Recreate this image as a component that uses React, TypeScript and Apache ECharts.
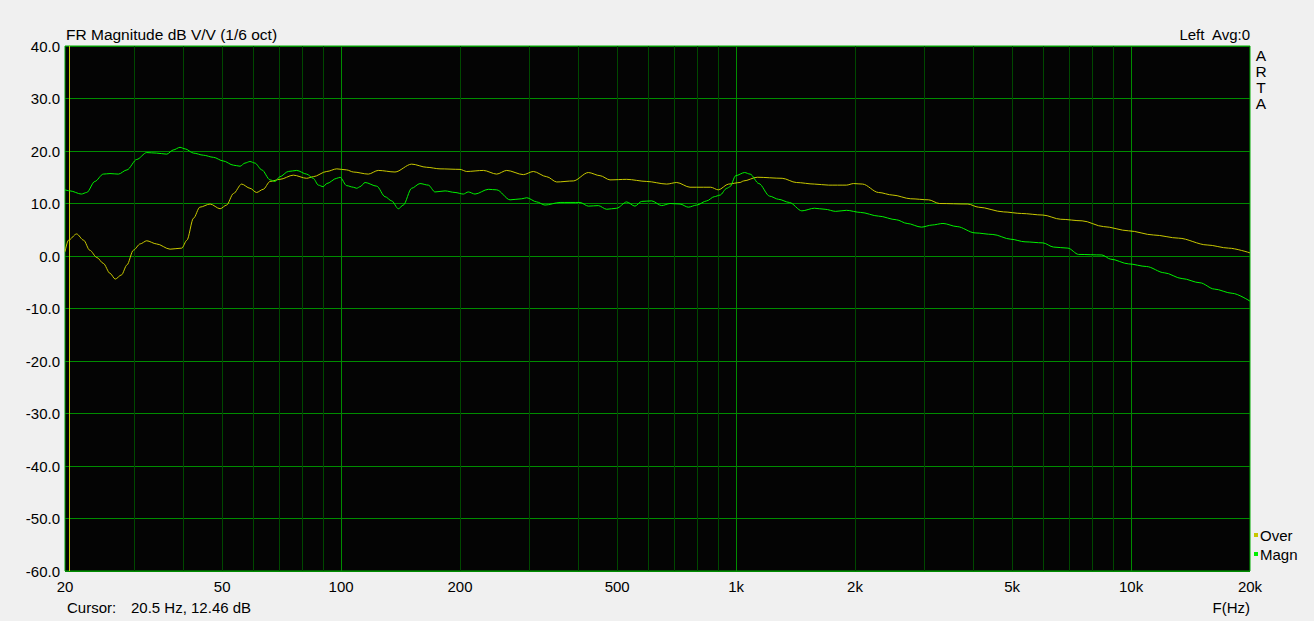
import React, { useEffect, useRef } from "react";
import * as echarts from "echarts";

const magnFreq = [20, 20.6, 22.0, 22.7, 23.8, 25.0, 26.0, 27.3, 28.7, 30.4, 32.2, 34.1, 36.2, 37.6, 39.1, 40.3, 42.3, 44.8, 47.5, 50.3, 53.4, 55.5, 57.1, 58.8, 60.5, 63.0, 66.1, 68.0, 70.0, 73.5, 77.2, 81.8, 85.0, 87.6, 90.1, 92.0, 97.5, 99.4, 103.3, 107.4, 109.5, 111.7, 115.0, 123.1, 129.2, 134.3, 139.6, 143.7, 150.9, 158.4, 166.3, 172.9, 183.3, 194.3, 203.9, 209.9, 218.3, 235.9, 247.7, 267.8, 286.7, 295.1, 312.8, 328.3, 358.4, 402.6, 422.6, 447.8, 470.4, 498.6, 528.4, 554.6, 576.8, 611.4, 648.1, 680.3, 721.2, 756.9, 794.8, 842.6, 880.8, 910.4, 947.3, 965.2, 997.8, 1051, 1085, 1142, 1216, 1281, 1364, 1467, 1578, 1680, 1787, 1902, 2067, 2294, 2546, 2710, 2946, 3135, 3340, 3627, 4026, 4468, 4958, 5389, 5981, 6366, 6918, 7363, 8431, 8880, 9856, 10934, 12134, 13464, 14943, 16243, 18020, 20000];
const magnDb = [12.6, 12.4, 11.8, 12.1, 14.2, 15.6, 15.7, 15.6, 16.4, 18.4, 19.7, 19.6, 19.4, 20.2, 20.7, 20.4, 19.6, 19.2, 18.8, 18.1, 17.3, 17.1, 17.7, 18.0, 17.7, 16.4, 14.5, 14.2, 15.1, 16.1, 16.3, 15.6, 14.8, 13.5, 13.2, 13.8, 14.8, 15.0, 13.4, 13.1, 12.9, 13.2, 14.0, 13.3, 11.3, 10.5, 9.0, 9.7, 12.9, 13.8, 13.5, 12.2, 12.4, 12.1, 11.8, 12.2, 11.8, 12.7, 12.6, 10.7, 10.9, 11.1, 10.3, 9.7, 10.2, 10.2, 9.5, 9.6, 8.9, 9.1, 10.3, 9.5, 10.4, 10.5, 9.6, 10.0, 9.9, 9.3, 9.7, 10.5, 11.3, 11.6, 12.9, 13.2, 15.3, 15.9, 15.6, 13.8, 11.4, 10.8, 10.2, 8.6, 9.1, 8.9, 8.5, 8.7, 8.3, 7.6, 6.9, 6.2, 5.5, 5.9, 6.2, 5.6, 4.4, 4.1, 3.2, 2.7, 2.5, 1.7, 1.5, 0.3, 0.2, -0.6, -1.5, -2.0, -3.2, -4.3, -5.1, -6.3, -7.1, -8.6];

const overFreq = [20, 20.4, 21.4, 22.3, 23.1, 24.1, 25.0, 26.0, 26.8, 27.8, 28.7, 29.8, 31.0, 32.2, 34.1, 36.9, 39.5, 40.7, 42.3, 43.9, 46.6, 49.4, 51.3, 53.4, 56.0, 58.8, 61.1, 63.5, 66.1, 70.0, 75.7, 81.8, 85.0, 92.0, 97.5, 103.3, 107.4, 117.2, 124.2, 136.9, 150.9, 164.7, 178.0, 200, 208.0, 229.2, 247.7, 262.6, 289.4, 306.7, 331.6, 351.4, 387.2, 422.6, 452.4, 479.5, 528.4, 594.0, 667.4, 707.4, 764.5, 826.0, 862.4, 901.6, 957.2, 1023, 1045, 1131, 1308, 1421, 1578, 1715, 1902, 1984, 2090, 2294, 2494, 2768, 3072, 3270, 3862, 4110, 4757, 5278, 5981, 6635, 7515, 8520, 9856, 11402, 13192, 15576, 17653, 20000];
const overDb = [0.8, 3.0, 4.2, 3.0, 1.1, -0.3, -1.4, -3.3, -4.4, -3.6, -1.7, 1.1, 2.3, 2.9, 2.3, 1.3, 1.5, 3.0, 7.2, 9.3, 9.9, 9.0, 9.7, 11.9, 13.7, 12.9, 12.1, 12.7, 14.2, 14.6, 15.4, 14.8, 15.1, 16.1, 16.6, 16.4, 16.0, 15.6, 16.3, 16.0, 17.5, 16.9, 16.6, 16.5, 16.1, 16.3, 15.6, 16.3, 15.5, 16.1, 15.1, 14.1, 14.3, 15.9, 15.3, 14.5, 14.6, 14.2, 13.7, 14.0, 13.1, 13.1, 13.1, 12.6, 13.7, 14.0, 14.3, 15.0, 14.8, 14.0, 13.7, 13.5, 13.5, 13.8, 13.7, 12.1, 11.6, 10.9, 10.7, 10.0, 9.9, 9.3, 8.4, 8.1, 7.8, 7.0, 6.7, 5.6, 4.8, 4.0, 3.4, 2.1, 1.5, 0.6];

const xLabelFreqs = [20, 50, 100, 200, 500, 1000, 2000, 5000, 10000, 20000];
const xLabelTexts = ["20", "50", "100", "200", "500", "1k", "2k", "5k", "10k", "20k"];
const majorFreqs = [100, 1000, 10000];
const minorFreqs = [30, 40, 50, 60, 70, 80, 90, 200, 300, 400, 500, 600, 700, 800, 900, 2000, 3000, 4000, 5000, 6000, 7000, 8000, 9000];
const cursorFreq = 20.5;
const cursorDb = 12.46;
const seriesNames = ["Over", "Magn"];
const sideLetters = ["A", "R", "T", "A"];

const FONT = '"Liberation Sans", Arial, sans-serif';
const OVER_COLOR = "#c8c800";
const MAGN_COLOR = "#00f000";
const BORDER = "#00aa00";
const MAJOR_GRID = "#008c00";
const MINOR_GRID = "#004800";

function txt(id: string, x: number, y: number, text: string, align: string, size = 15) {
  return {
    type: "text",
    id,
    x,
    y,
    style: { text, fill: "#000", fontSize: size, fontFamily: FONT, align, verticalAlign: "middle" },
  };
}

export default function App() {
  const ref = useRef<HTMLDivElement>(null);

  useEffect(() => {
    if (!ref.current) return;
    const chart = echarts.init(ref.current, undefined, { renderer: "svg" });

    chart.setOption({
      animation: false,
      backgroundColor: "#f0f0f0",
      grid: {
        left: 65,
        right: 64,
        top: 46,
        bottom: 50,
        show: true,
        backgroundColor: "#040404",
        borderColor: BORDER,
        borderWidth: 1,
      },
      xAxis: {
        type: "log",
        logBase: 10,
        min: 20,
        max: 20000,
        show: false,
      },
      yAxis: {
        type: "value",
        min: -60,
        max: 40,
        interval: 10,
        axisLine: { show: false, onZero: false },
        axisTick: { show: false },
        axisLabel: {
          color: "#000",
          fontSize: 15,
          fontFamily: FONT,
          margin: 5,
          formatter: (v: number) => v.toFixed(1),
        },
        splitLine: { show: true, lineStyle: { color: MAJOR_GRID, width: 1 } },
      },
      series: [
        {
          type: "line",
          name: seriesNames[0],
          z: 3,
          data: overFreq.map((f, i) => [f, overDb[i]]),
          showSymbol: false,
          symbol: "none",
          smooth: 0.3,
          smoothMonotone: "x",
          lineStyle: { color: OVER_COLOR, width: 1 },
          itemStyle: { color: OVER_COLOR },
        },
        {
          type: "line",
          name: seriesNames[1],
          z: 4,
          data: magnFreq.map((f, i) => [f, magnDb[i]]),
          showSymbol: false,
          symbol: "none",
          smooth: 0.3,
          smoothMonotone: "x",
          lineStyle: { color: MAGN_COLOR, width: 1 },
          itemStyle: { color: MAGN_COLOR },
        },
      ],
    });

    const yTop = chart.convertToPixel({ yAxisIndex: 0 }, 40) as number;
    const yBot = chart.convertToPixel({ yAxisIndex: 0 }, -60) as number;
    const xPix = (f: number) => Math.floor(chart.convertToPixel({ xAxisIndex: 0 }, f) as number) + 0.5;
    const vline = (id: string, f: number, color: string, z2: number) => ({
      type: "line",
      id,
      z: 1,
      z2,
      silent: true,
      shape: { x1: xPix(f), y1: yTop, x2: xPix(f), y2: yBot },
      style: { stroke: color, lineWidth: 1 },
    });

    const graphic: any[] = [
      txt("title", 66, 34, "FR Magnitude dB V/V (1/6 oct)", "left", 15.5),
      txt("chan", 1250, 34, "Left  Avg:0", "right"),
      txt("cur", 67, 607, "Cursor:", "left"),
      txt("curv", 131, 607, `${cursorFreq} Hz, ${cursorDb} dB`, "left"),
      txt("fhz", 1250, 607, "F(Hz)", "right"),
    ];
    minorFreqs.forEach((f, i) => graphic.push(vline("mn" + i, f, MINOR_GRID, 1)));
    majorFreqs.forEach((f, i) => graphic.push(vline("mj" + i, f, MAJOR_GRID, 2)));
    graphic.push(vline("cursor", cursorFreq, OVER_COLOR, 3));
    xLabelFreqs.forEach((f, i) => {
      const px = chart.convertToPixel({ xAxisIndex: 0 }, f) as number;
      graphic.push(txt("xl" + i, px, yBot + 15, xLabelTexts[i], "center"));
    });
    sideLetters.forEach((c, i) => graphic.push(txt("side" + i, 1261, 55 + i * 16, c, "center", 15.5)));
    const legendColors = [OVER_COLOR, MAGN_COLOR];
    seriesNames.forEach((n, i) => {
      graphic.push({
        type: "rect",
        id: "lg" + i,
        shape: { x: 1254, y: 533 + i * 19, width: 4, height: 4 },
        style: { fill: legendColors[i] },
      });
      graphic.push(txt("lt" + i, 1260, 535 + i * 19, n, "left"));
    });
    chart.setOption({ graphic });

    return () => chart.dispose();
  }, []);

  return (
    <div
      ref={ref}
      style={{ position: "absolute", left: 0, top: 0, width: 1314, height: 621 }}
    />
  );
}
